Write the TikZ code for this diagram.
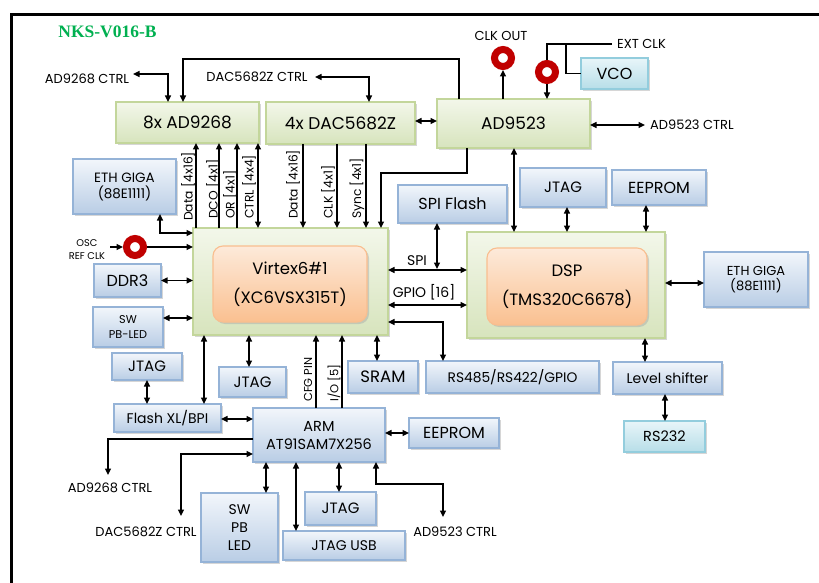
\documentclass[tikz,border=0pt]{standalone}
\usepackage{fontspec}
\setmainfont{Poppins}
\newfontfamily\titlefont{Liberation Serif}
\usetikzlibrary{arrows.meta,shadows,calc}
\definecolor{grnE}{HTML}{C3D69B}
\definecolor{grnT}{HTML}{F3F7EA}
\definecolor{grnB}{HTML}{D7E4BD}
\definecolor{bluE}{HTML}{95B3D7}
\definecolor{bluT}{HTML}{F2F6FB}
\definecolor{bluB}{HTML}{B9CDE5}
\definecolor{cyE}{HTML}{93CDDD}
\definecolor{cyT}{HTML}{E8F5F9}
\definecolor{cyB}{HTML}{B7DEE8}
\definecolor{orE}{HTML}{F9BE8F}
\definecolor{orT}{HTML}{FDEADA}
\definecolor{orB}{HTML}{FAC090}
\definecolor{ringR}{HTML}{C00000}
\definecolor{ttl}{HTML}{00B050}
\newcommand\bx[7]{\node[#1, minimum width={(#5-#3)*1pt}, minimum height={(#6-#4)*1pt}] (#2) at ({(#3+#5)/2},{(#4+#6)/2}) {#7};}
\newcommand\fsz[2]{\fontsize{#1}{#2}\selectfont}
\tikzset{
  box/.style={draw, line width=1.1pt, outer sep=0pt, inner sep=1pt, align=center,
    drop shadow={shadow xshift=2pt, shadow yshift=-2pt, fill=black!35, opacity=0.45}},
  gbox/.style={box, draw=grnE, top color=grnT, bottom color=grnB, font=\fsz{17}{20}},
  bbox/.style={box, draw=bluE, top color=bluT, bottom color=bluB, font=\fsz{15}{18}},
  cbox/.style={box, draw=cyE, top color=cyT, bottom color=cyB, font=\fsz{14.5}{17}},
  obox/.style={box, rounded corners=10pt, draw=orE, top color=orT, bottom color=orB, font=\fsz{16.5}{29}},
  ring/.style={circle, draw=ringR, line width=7pt, minimum size=17pt, inner sep=0pt, fill=white},
  lbl/.style={inner sep=0pt, font=\fsz{13}{15}},
  rlbl/.style={inner sep=0pt, font=\fsz{12.3}{14}, rotate=90, anchor=west},
  tip/.tip={Triangle[length=6.5pt,width=6pt]},
  ln/.style={line width=1.3pt},
  ar/.style={ln, -tip},
  dar/.style={ln, tip-tip},
}
\begin{document}
\begin{tikzpicture}[x=1pt,y=-1pt]
\useasboundingbox (0,0) rectangle (819,583);
\fill[white] (0,0) rectangle (819,583);
\draw[line width=3pt] (11.5,583) -- (11.5,14.5) -- (819,14.5);
\node[font=\titlefont\bfseries\fsz{17.5}{20}, text=ttl] (title) at (107.5,32) {NKS-V016-B};

% green boxes
\bx{gbox}{ad}{116}{102}{259}{143}{8x AD9268}
\bx{gbox}{dac}{266}{102}{415}{144}{4x DAC5682Z}
\bx{gbox}{clk}{437}{99}{590}{148}{AD9523}
\bx{gbox}{vx}{193}{228}{388}{335}{}
\bx{obox}{vxi}{213}{246}{367}{322}{Virtex6\#1\\(XC6VSX315T)}
\bx{gbox}{dsp}{467}{232}{665}{338}{}
\bx{obox}{dspi}{487}{248}{647}{325}{DSP\\(TMS320C6678)}

% blue boxes
\bx{bbox,font=\fsz{13.5}{16}}{ethL}{73}{159}{176}{214}{ETH GIGA\\(88E1111)}
\bx{bbox,font=\fsz{16}{19}}{spi}{398}{185}{507}{223}{SPI Flash}
\bx{bbox}{jtagD}{520}{168}{606}{207}{JTAG}
\bx{bbox,font=\fsz{16}{19}}{eepD}{612}{170}{706}{205}{EEPROM}
\bx{bbox,font=\fsz{13}{15}}{ethR}{704}{252}{808}{307}{ETH GIGA\\(88E1111)}
\bx{bbox,font=\fsz{16}{19}}{ddr}{94}{264}{161}{297}{DDR3}
\bx{bbox,font=\fsz{11.3}{15}}{swL}{93}{307}{163}{347}{SW\\PB-LED}
\bx{bbox}{jtagL}{112}{353}{182}{380}{JTAG}
\bx{bbox}{jtagV}{219}{367}{286}{397}{JTAG}
\bx{bbox,font=\fsz{16.5}{19}}{sram}{348}{361}{418}{393}{SRAM}
\bx{bbox,font=\fsz{13.8}{16}}{rs485}{426}{361}{599}{393}{RS485/RS422/GPIO}
\bx{bbox,font=\fsz{14}{17}}{lvl}{613}{362}{722}{394}{Level shifter}
\bx{cbox}{rs232}{624}{421}{705}{452}{RS232}
\bx{cbox,font=\fsz{16}{19}}{vco}{581}{58}{648}{89}{VCO}
\bx{bbox,font=\fsz{14}{17}}{flash}{114}{404}{221}{432}{Flash XL/BPI}
\bx{bbox,font=\fsz{14.5}{18}}{arm}{253}{408}{385}{462}{ARM\\AT91SAM7X256}
\bx{bbox,font=\fsz{16}{19}}{eepA}{409}{418}{499}{448}{EEPROM}
\bx{bbox,font=\fsz{14}{18}}{swB}{201}{493}{278}{562}{SW\\PB\\LED}
\bx{bbox}{jtagB}{305}{492}{376}{525}{JTAG}
\bx{bbox,font=\fsz{14}{17}}{jusb}{283}{531}{405}{560}{JTAG USB}

% rings
\node[ring] (co) at (503,58) {};
\node[ring] (eo) at (547,72) {};
\node[ring] (rr) at (135,247) {};

% free labels
\node[lbl] (t1) at (87,79) {AD9268 CTRL};
\node[lbl] (t2) at (257,77) {DAC5682Z CTRL};
\node[lbl] (t3) at (501,36) {CLK OUT};
\node[lbl, anchor=west] (t4) at (617,44) {EXT CLK};
\node[lbl, anchor=west] (t5) at (650,125) {AD9523 CTRL};
\node[lbl, font=\fsz{9.8}{13}, align=center] (t6) at (87,250) {OSC\\REF CLK};
\node[lbl, font=\fsz{14}{16}] (t7) at (417,261) {SPI};
\node[lbl, font=\fsz{14}{16}] (t8) at (424,292) {GPIO [16]};
\node[lbl] (t9) at (110,488) {AD9268 CTRL};
\node[lbl] (t10) at (146,532) {DAC5682Z CTRL};
\node[lbl] (t11) at (455,532) {AD9523 CTRL};
\node[rlbl] (r1) at (188,221) {Data [4x16]};
\node[rlbl] (r2) at (213,219) {DCO [4x1]};
\node[rlbl] (r3) at (230,219) {OR [4x1]};
\node[rlbl] (r4) at (249,219) {CTRL [4x4]};
\node[rlbl] (r5) at (293,219) {Data [4x16]};
\node[rlbl] (r6) at (328,219) {CLK [4x1]};
\node[rlbl] (r7) at (357,219) {Sync [4x1]};
\node[rlbl, font=\fsz{11.5}{14}] (r8) at (308,402) {CFG PIN};
\node[rlbl, font=\fsz{11.5}{14}] (r9) at (334,402) {I/O [5]};

% free ends
\coordinate (c1) at (133,74);
\coordinate (c2) at (315,77);
\coordinate (ec) at (612,44);
\coordinate (eb) at (566,44);
\coordinate (c5) at (645,125);
\coordinate (spij) at (437,269);
\coordinate (oscE) at (110,247);
\coordinate (a2) at (108,475);
\coordinate (d2) at (181,516);
\coordinate (a3) at (443,517);

% top connectors
\draw[dar] (ad.north -| 168,0) |- (c1);
\draw[ar] (clk.north -| 459,0) -- ++(0,-40) -| (ad.north -| 183,0);
\draw[dar] (dac.north -| 369,0) |- (c2);
\draw[dar] (dac.east |- 0,121) -- (clk.west |- 0,121);
\draw[ar] (clk.north -| co.south) -- (co.south);
\draw[ar] (eo.south) -- (clk.north -| eo.south);
\draw[ln] (eo.north) |- (ec);
\draw[ln] (eb) |- (vco.west);
\draw[dar] (clk.east |- c5) -- (c5);
\draw[dar] (clk.south -| 514,0) -- (dsp.north -| 514,0);
\draw[ar] (clk.south -| 467,0) -- ++(0,25) -| (vx.north -| 381,0);

% AD9268 / DAC to Virtex
\draw[ar] (vx.north -| 196,0) -- (ad.south -| 196,0);
\draw[ar] (vx.north -| 219,0) -- (ad.south -| 219,0);
\draw[ar] (vx.north -| 237,0) -- (ad.south -| 237,0);
\draw[dar] (vx.north -| 258,0) -- (ad.south -| 258,0);
\draw[ar] (dac.south -| 303,0) -- (vx.north -| 303,0);
\draw[ar] (dac.south -| 337,0) -- (vx.north -| 337,0);
\draw[ar] (dac.south -| 366,0) -- (vx.north -| 366,0);

% DSP side
\draw[dar] (jtagD.south -| 567,0) -- (dsp.north -| 567,0);
\draw[dar] (eepD.south -| 646,0) -- (dsp.north -| 646,0);
\draw[dar] (dsp.east |- 0,283) -- (ethR.west |- 0,283);
\draw[dar] (dsp.south -| 645,0) -- (lvl.north -| 645,0);
\draw[dar] (lvl.south -| 665,0) -- (rs232.north -| 665,0);
\draw[dar] (vx.east |- 0,270) -- (dsp.west |- 0,270);
\draw[dar] (spi.south -| spij) -- (spij);
\draw[dar] (vx.east |- 0,305) -- (dsp.west |- 0,305);
\draw[dar] (vx.east |- 0,322) -| (rs485.north -| 443,0);
\draw[dar] (vx.south -| 377,0) -- (sram.north -| 377,0);

% left of Virtex
\draw[dar] (ethL.south -| 160,0) |- (vx.west |- 0,233);
\draw[ar] (oscE) -- (rr.west);
\draw[ar] (rr.east) -- (vx.west |- rr.east);
\draw[dar] (ddr.east) -- (vx.west |- ddr.east);
\draw[dar] (swL.east |- 0,318) -- (vx.west |- 0,318);

% below Virtex
\draw[dar] (vx.south -| 204,0) -- (flash.north -| 204,0);
\draw[dar] (vx.south -| 249,0) -- (jtagV.north -| 249,0);
\draw[ar] (arm.north -| 316,0) -- (vx.south -| 316,0);
\draw[ar] (arm.north -| 342,0) -- (vx.south -| 342,0);
\draw[dar] (jtagL.south -| 147,0) -- (flash.north -| 147,0);
\draw[dar] (flash.east |- 0,419) -- (arm.west |- 0,419);

% ARM
\draw[ar] (arm.west |- 0,439) -| (a2);
\draw[dar] (arm.west |- 0,454) -| (d2);
\draw[dar] (arm.south -| 266,0) -- (swB.north -| 266,0);
\draw[dar] (arm.south -| 296,0) -- (jusb.north -| 296,0);
\draw[dar] (arm.south -| 339,0) -- (jtagB.north -| 339,0);
\draw[dar] (arm.south -| 376,0) -- ++(0,22) -| (a3);
\draw[dar] (arm.east |- 0,433) -- (eepA.west |- 0,433);
\end{tikzpicture}
\end{document}
